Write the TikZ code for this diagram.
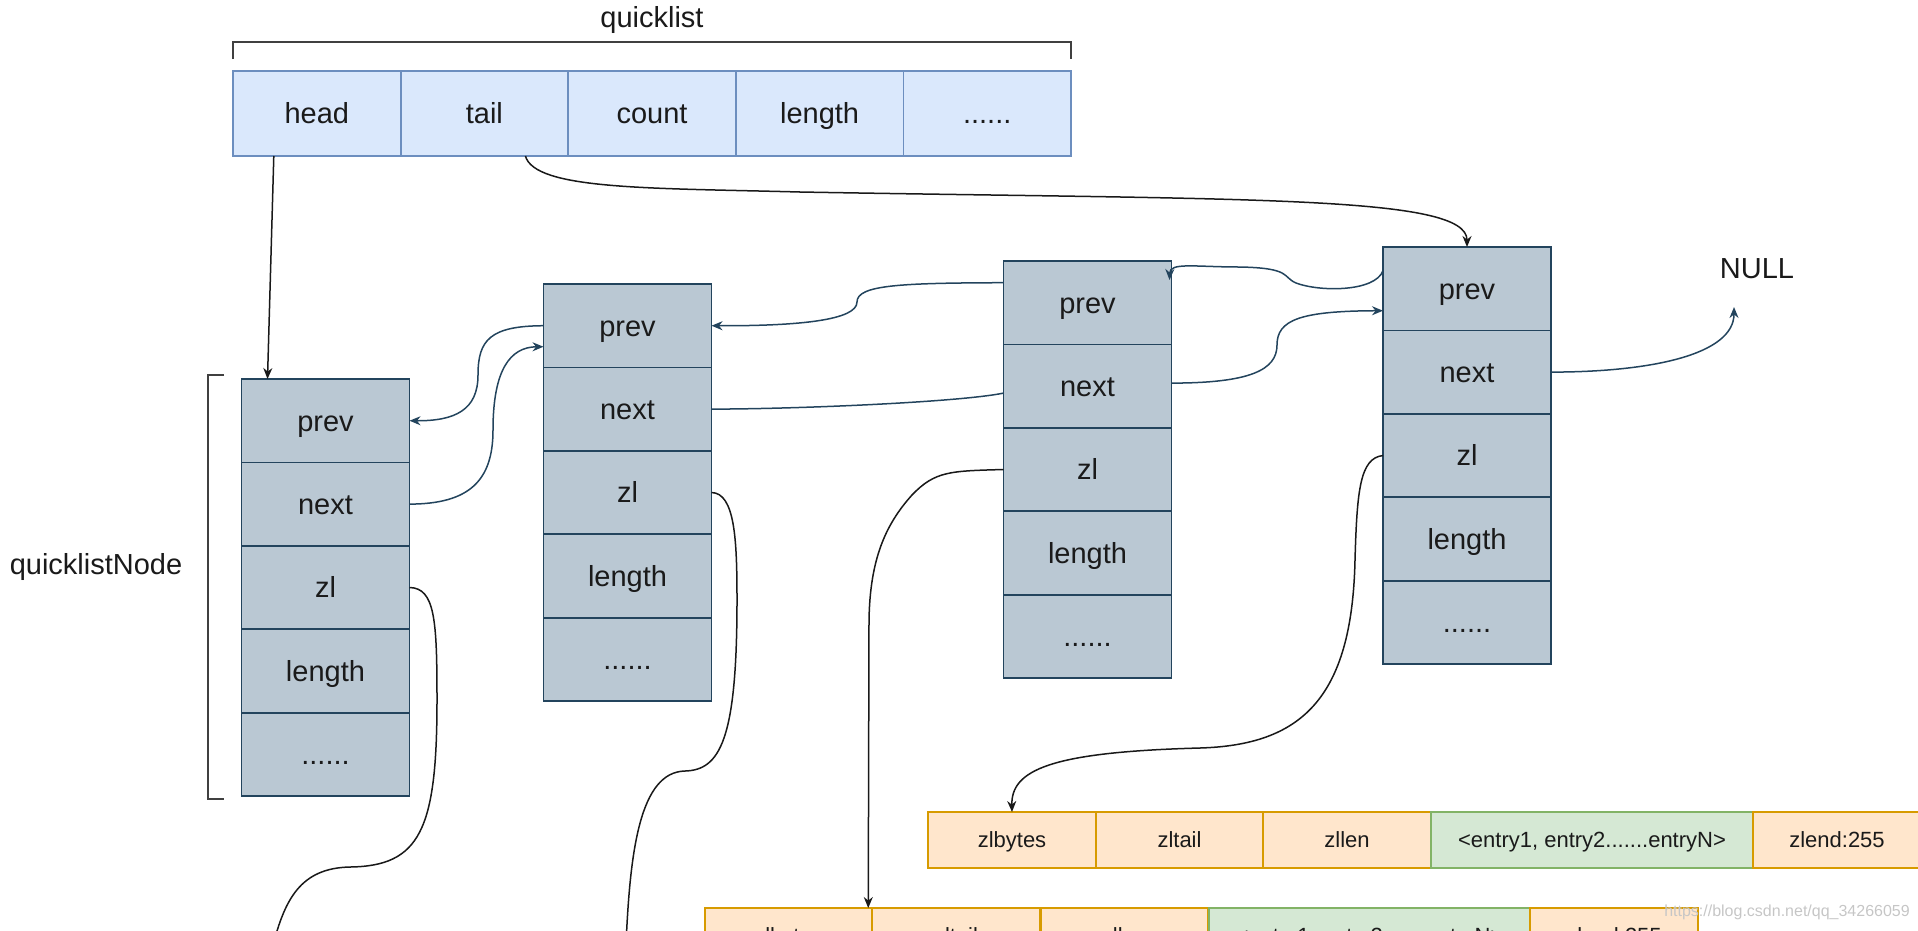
\documentclass[tikz,border=0pt]{standalone}
\usepackage{fontspec}
\setmainfont{Liberation Sans}
\usetikzlibrary{arrows.meta,calc}
\definecolor{qlfill}{HTML}{DAE8FC}
\definecolor{qlline}{HTML}{6C8EBF}
\definecolor{qnfill}{HTML}{BAC8D3}
\definecolor{qnline}{HTML}{23445D}
\definecolor{zofill}{HTML}{FFE6CC}
\definecolor{zoline}{HTML}{D79B00}
\definecolor{zgfill}{HTML}{D5E8D4}
\definecolor{zgline}{HTML}{82B366}
\definecolor{txt}{HTML}{1A1A1A}
\newcommand{\qcolumn}[3]{%
  \node[qncell] (#1prev) at (#2,{#3+41.7}) {prev};
  \node[qncell] (#1next) at (#2,{#3+125.1}) {next};
  \node[qncell] (#1zl) at (#2,{#3+208.5}) {zl};
  \node[qncell] (#1len) at (#2,{#3+291.9}) {length};
  \node[qncell] (#1dots) at (#2,{#3+375.3}) {......};
}
\begin{document}
\begin{tikzpicture}[x=1pt,y=-1pt,
  cellbase/.style={rectangle,inner sep=0pt,outer sep=0pt,line width=1.8pt,text=txt,font=\fontsize{29}{34}\selectfont,text height=20.8pt,text depth=0pt},
  qlcell/.style={cellbase,fill=qlfill,draw=qlline,minimum width=167.6pt,minimum height=85pt},
  qncell/.style={cellbase,fill=qnfill,draw=qnline,minimum width=168pt,minimum height=83.4pt},
  zocell/.style={cellbase,fill=zofill,draw=zoline,minimum height=56pt,minimum width=167.5pt,font=\fontsize{22}{26}\selectfont,text height=15.8pt},
  zgcell/.style={zocell,fill=zgfill,draw=zgline},
  lbl/.style={text=txt,font=\fontsize{29}{34}\selectfont,inner sep=0pt,text height=20.8pt,text depth=0pt},
  wm/.style={text=gray!45,font=\fontsize{16}{19}\selectfont,inner sep=0pt},
  brk/.style={draw=black!75,line width=1.8pt},
  blk/.style={draw=black!90,line width=1.5pt,-{Stealth[length=11pt,width=9pt]}},
  blu/.style={draw=qnline,line width=1.5pt,-{Stealth[length=11pt,width=9pt]}},
]
\useasboundingbox (0,0) rectangle (1918,930);
\clip (0,0) rectangle (1918,930);

% quicklist header
\node[lbl] (qltitle) at (652,17) {quicklist};
\draw[brk] (233,59) -- (233,42) -- (1071,42) -- (1071,59);
\node[qlcell] (qhead) at (316.8,113.5) {head};
\node[qlcell] (qtail) at (484.4,113.5) {tail};
\node[qlcell] (qcount) at (652,113.5) {count};
\node[qlcell] (qlen) at (819.6,113.5) {length};
\node[qlcell] (qdots) at (987.2,113.5) {......};

% quicklistNode label and bracket
\node[lbl] (qnlabel) at (96,564) {quicklistNode};
\draw[brk] (224,375) -- (208,375) -- (208,799) -- (224,799);

% nodes
\qcolumn{n1}{325.5}{379}
\qcolumn{n2}{627.5}{284}
\qcolumn{n3}{1087.5}{261}
\qcolumn{n4}{1467}{247}

\node[lbl] (null) at (1757,268) {NULL};
\coordinate (nulltip) at (1734,307);

% ziplists
\node[zocell] (z1bytes) at (1012,840) {zlbytes};
\node[zocell] (z1tail) at (1179.5,840) {zltail};
\node[zocell] (z1len) at (1347,840) {zllen};
\node[zgcell,minimum width=322pt] (z1entries) at (1592,840) {<entry1, entry2.......entryN>};
\node[zocell] (z1end) at (1837,840) {zlend:255};

\node[zocell] (z2bytes) at (788.5,936) {zlbytes};
\node[zocell] (z2tail) at (956,936) {zltail};
\node[zocell] (z2len) at (1124.5,936) {zllen};
\node[zgcell,minimum width=321pt] (z2entries) at (1369.5,936) {<entry1, entry2.......entryN>};
\node[zocell] (z2end) at (1614,936) {zlend:255};

% connectors
\draw[blk] ($(qhead.south)+(-43,0)$) -- ($(n1prev.north)+(-58,0)$);
\draw[blk] ($(qtail.south)+(41,0)$) .. controls (535,190) and (650,188) .. (800,192)
   .. controls (1250,200) and (1467,195) .. (n4prev.north);

\draw[blu] (n1next.east) .. controls (470,504) and (493,480) .. (493,430)
   .. controls (493,370) and (510,347) .. ($(n2prev.west)+(0,21)$);
\draw[blu] (n2prev.west) .. controls (490,326) and (478,340) .. (478,375)
   .. controls (478,410) and (455,421) .. (n1prev.east);

\draw[blu] ($(n3prev.west)+(0,-20)$) .. controls (900,283) and (857,285) .. (857,302)
   .. controls (857,320) and (800,326) .. (n2prev.east);
\draw[draw=qnline,line width=1.5pt] (n2next.east) .. controls (800,409) and (960,402) .. ($(n3next.west)+(0,7)$);

\draw[blu] ($(n4prev.west)+(0,-18)$) .. controls (1375,292) and (1320,292) .. (1296,283)
   .. controls (1282,277) and (1292,268) .. (1240,267)
   .. controls (1195,267) and (1170,262) .. ($(n3prev.north east)+(-2,19)$);
\draw[blu] ($(n3next.east)+(0,-3)$) .. controls (1250,383) and (1277,370) .. (1277,345)
   .. controls (1277,320) and (1300,311) .. ($(n4prev.west)+(0,22)$);

\draw[blu] (n4next.east) .. controls (1650,372) and (1734,355) .. (nulltip);

\draw[blk] (n4zl.west) .. controls (1360,458) and (1357,490) .. (1355,560)
   .. controls (1352,700) and (1300,745) .. (1200,748)
   .. controls (1050,752) and (1011,770) .. (z1bytes.north);

\draw[blk] (n3zl.west) .. controls (950,471) and (935,471) .. (912,495)
   .. controls (885,525) and (870,560) .. (869,620) -- ($(z2bytes.north east)+(-4,0)$);

\coordinate (off2) at (626,945);
\draw[draw=black!90,line width=1.5pt] (n2zl.east) .. controls (735,493) and (737,540) .. (737,600)
   .. controls (737,740) and (720,770) .. (685,771)
   .. controls (640,772) and (630,850) .. (off2);

\coordinate (off1) at (273,945);
\draw[draw=black!90,line width=1.5pt] (n1zl.east) .. controls (435,588) and (437,620) .. (437,700)
   .. controls (437,830) and (420,866) .. (350,867)
   .. controls (300,868) and (285,900) .. (off1);

\node[wm] (wmark) at (1787,912) {https://blog.csdn.net/qq\_34266059};
\end{tikzpicture}
\end{document}
